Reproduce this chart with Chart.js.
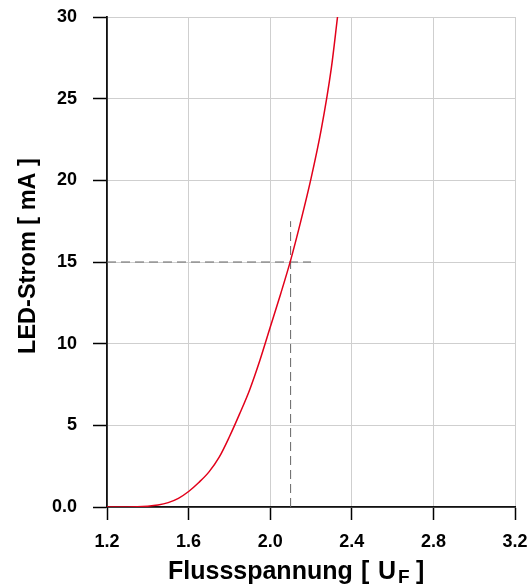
<!DOCTYPE html>
<html>
<head>
<meta charset="utf-8">
<script src="https://cdn.jsdelivr.net/npm/chart.js@4"></script>
<style>
  html, body { margin: 0; padding: 0; background: #fff; }
  #wrap { width: 530px; height: 587px; }
</style>
</head>
<body>
<div id="wrap"><canvas id="ledChart" width="530" height="587"></canvas></div>
<script>
// Kennlinie
const voltage = [1.2, 1.3, 1.4, 1.45, 1.5, 1.55, 1.6, 1.65, 1.7, 1.75, 1.8, 1.85, 1.9, 1.95, 2.0, 2.05, 2.1, 2.15, 2.2, 2.25, 2.3, 2.33];
const current = [0, 0, 0.05, 0.12, 0.27, 0.53, 0.95, 1.5, 2.15, 3.05, 4.3, 5.7, 7.2, 9.0, 11.0, 13.0, 15.1, 17.5, 20.1, 23.1, 26.9, 30.0];

// dashed helper lines (operating point)
const markX = [1.2, 2.2];
const markY = [15, 15];
const markVx = [2.1, 2.1];
const markVy = [0, 17.5];

const xTicks = [1.2, 1.6, 2.0, 2.4, 2.8, 3.2];
const yTicks = [0, 5, 10, 15, 20, 25, 30];

const font = "'Liberation Sans', Arial, sans-serif";

// axis titles drawn by hand (x title needs subscript F)
const titlesPlugin = {
    id: "titles",
    afterDraw(chart) {
        const ctx = chart.ctx;
        ctx.save();
        ctx.fillStyle = "#000";
        ctx.textBaseline = "alphabetic";

        // y title
        ctx.save();
        ctx.translate(35, 256);
        ctx.rotate(-Math.PI / 2);
        ctx.textAlign = "center";
        ctx.font = "bold 23.5px " + font;
        ctx.fillText("LED-Strom [ mA ]", 0, 0);
        ctx.restore();

        // x title with subscript
        ctx.textAlign = "left";
        ctx.font = "bold 25px " + font;
        ctx.fillText("Flussspannung", 168, 579);
        ctx.fillText("[", 361, 579);
        ctx.fillText("U", 378, 579);
        ctx.fillText("]", 416, 579);
        ctx.font = "bold 19px " + font;
        ctx.fillText("F", 398, 583);
        ctx.restore();
    }
};

const ctx = document.getElementById("ledChart").getContext("2d");

new Chart(ctx, {
    type: "line",
    data: {
        datasets: [
            {
                label: "I_F",
                data: voltage.map((v, i) => ({ x: v, y: current[i] })),
                borderColor: "#e2001a",
                borderWidth: 1.5,
                pointRadius: 0,
                cubicInterpolationMode: "monotone",
                fill: false
            },
            {
                label: "h",
                data: markX.map((v, i) => ({ x: v, y: markY[i] })),
                borderColor: "#666",
                borderWidth: 1,
                borderDash: [9, 5],
                pointRadius: 0,
                fill: false
            },
            {
                label: "v",
                data: markVx.map((v, i) => ({ x: v, y: markVy[i] })),
                borderColor: "#666",
                borderWidth: 1,
                borderDash: [9, 5],
                pointRadius: 0,
                fill: false
            }
        ]
    },
    options: {
        responsive: false,
        animation: false,
        layout: { padding: { top: 17, right: 15, left: 0, bottom: 0 } },
        plugins: {
            legend: { display: false },
            tooltip: { enabled: false }
        },
        scales: {
            x: {
                type: "linear",
                min: 1.2,
                max: 3.2,
                afterBuildTicks: (scale) => { scale.ticks = xTicks.map(v => ({ value: v })); },
                afterFit: (scale) => {
                    scale.height = 80;
                    scale.paddingLeft = 0;
                    scale.paddingRight = 0;
                },
                ticks: {
                    color: "#000",
                    font: { family: font, size: 18, weight: "bold" },
                    padding: 11,
                    maxRotation: 0,
                    callback: (v) => Number(v).toFixed(1)
                },
                grid: {
                    color: "#cfcfcf",
                    lineWidth: 1,
                    tickLength: 13,
                    tickColor: "#000",
                    tickWidth: 1.5
                },
                border: { color: "#111", width: 1.8 }
            },
            y: {
                type: "linear",
                min: 0,
                max: 30,
                afterBuildTicks: (scale) => { scale.ticks = yTicks.map(v => ({ value: v })); },
                afterFit: (scale) => {
                    scale.width = 107;
                    scale.paddingTop = 0;
                    scale.paddingBottom = 0;
                },
                ticks: {
                    color: "#000",
                    font: { family: font, size: 18, weight: "bold" },
                    padding: 16,
                    callback: (v) => v === 0 ? "0.0" : String(v)
                },
                grid: {
                    color: "#cfcfcf",
                    lineWidth: 1,
                    tickLength: 14,
                    tickColor: "#000",
                    tickWidth: 1.5
                },
                border: { color: "#111", width: 1.8 }
            }
        }
    },
    plugins: [titlesPlugin]
});
</script>
</body>
</html>
